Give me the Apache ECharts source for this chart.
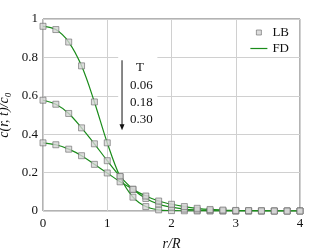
<!DOCTYPE html>
<html><head><meta charset="utf-8">
<script src="https://cdn.jsdelivr.net/npm/echarts@6/dist/echarts.min.js"></script>
<style>html,body{margin:0;padding:0;background:#fff}#c{width:332px;height:249px}</style>
</head><body><div id="c"></div>
<script>
const r = [0,0.2,0.4,0.6,0.8,1.0,1.2,1.4,1.6,1.8,2.0,2.2,2.4,2.6,2.8,3.0,3.2,3.4,3.6,3.8,4.0];
const T = ['0.06','0.18','0.30'];
const cT006 = [0.962,0.945,0.880,0.756,0.568,0.355,0.178,0.072,0.023,0.006,0.002,0.001,0,0,0,0,0,0,0,0,0];
const cT018 = [0.577,0.556,0.508,0.433,0.350,0.262,0.180,0.113,0.065,0.036,0.020,0.010,0.005,0.002,0.001,0,0,0,0,0,0];
const cT030 = [0.355,0.345,0.322,0.288,0.243,0.198,0.152,0.113,0.078,0.052,0.035,0.023,0.014,0.008,0.005,0.003,0.002,0.001,0,0,0];
const xTicks = [0,1,2,3,4];
const yTicks = [0,0.2,0.4,0.6,0.8,1];
const serif = 'Liberation Serif';
const green = '#1a8c1a';
const curves = [cT006, cT018, cT030];
const pairs = c => r.map((x,i)=>[x,c[i]]);
const series = [];
curves.forEach(c=>{
  series.push({name:'FD',type:'line',data:pairs(c),smooth:0.35,symbol:'none',showSymbol:false,
    lineStyle:{color:green,width:1.2},itemStyle:{color:green},z:2});
});
curves.forEach(c=>{
  series.push({name:'LB',type:'scatter',data:pairs(c),symbol:'rect',symbolSize:6,
    itemStyle:{color:'#d4d4d4',borderColor:'#6a6a6a',borderWidth:0.8},z:3});
});
const chart = echarts.init(document.getElementById('c'));
chart.setOption({
  animation:false,
  grid:{left:43,right:32,top:19,bottom:38,show:true,borderColor:'#666',borderWidth:1,outerBoundsMode:'none',containLabel:false},
  legend:{orient:'vertical',right:38,top:21,itemWidth:17,itemHeight:6,itemGap:3,
    data:[
      {name:'LB',icon:'path://M0,0L0,0M17,6L17,6M6,0.5L11,0.5L11,5.5L6,5.5Z',itemStyle:{color:'#d4d4d4',borderColor:'#6a6a6a',borderWidth:0.8}},
      {name:'FD',icon:'path://M0,0L0,0M17,6L17,6M0,2.4L17,2.4L17,3.6L0,3.6Z',itemStyle:{color:green,borderWidth:0}}
    ],
    textStyle:{fontFamily:serif,fontSize:13,color:'#111'}},
  xAxis:{type:'value',min:0,max:4,interval:1,name:'r/R',nameLocation:'middle',nameGap:26,
    nameTextStyle:{fontFamily:serif,fontSize:14,fontStyle:'italic',color:'#111'},
    axisLine:{show:false},axisTick:{show:false},
    axisLabel:{fontFamily:serif,fontSize:13,color:'#111',margin:6},
    splitLine:{lineStyle:{color:'#d0d0d0',width:1}}},
  yAxis:{type:'value',min:0,max:1,interval:0.2,name:'c(r, t)/c₀',nameLocation:'middle',nameGap:25,
    nameTextStyle:{fontFamily:serif,fontSize:14,fontStyle:'italic',color:'#111'},
    axisLine:{show:false},axisTick:{show:false},
    axisLabel:{fontFamily:serif,fontSize:13,color:'#111',margin:5,formatter:v=>String(+v.toFixed(1))},
    splitLine:{lineStyle:{color:'#d0d0d0',width:1}}},
  series:series
});
// annotation in data coordinates
const px = p => chart.convertToPixel({gridIndex:0},p);
const boxA = px([1.17,0.83]), boxB = px([1.78,0.41]);
const arrowTop = px([1.23,0.785]);
const arrowBot = px([1.23,0.42]);
const tPos = px([1.51,0.745]);
const labels = [[0.652,T[0]],[0.567,T[1]],[0.478,T[2]]];
const g = [
  {type:'rect',shape:{x:boxA[0],y:boxA[1],width:boxB[0]-boxA[0],height:boxB[1]-boxA[1]},style:{fill:'#fff'},z:9},
  {type:'line',shape:{x1:arrowTop[0],y1:arrowTop[1],x2:arrowBot[0],y2:arrowBot[1]-4},style:{stroke:'#111',lineWidth:1},z:10},
  {type:'polygon',shape:{points:[[arrowBot[0]-2.5,arrowBot[1]-6],[arrowBot[0]+2.5,arrowBot[1]-6],[arrowBot[0],arrowBot[1]]]},style:{fill:'#111'},z:10},
  {type:'text',x:tPos[0],y:tPos[1],style:{text:'T',fontFamily:serif,fontSize:13,fill:'#111',align:'center',verticalAlign:'middle'},z:10}
];
labels.forEach(([y,t])=>{
  const p = px([1.354,y]);
  g.push({type:'text',x:p[0],y:p[1],style:{text:t,fontFamily:serif,fontSize:13,fill:'#111',align:'left',verticalAlign:'middle'},z:10});
});
chart.setOption({graphic:g});
</script></body></html>
